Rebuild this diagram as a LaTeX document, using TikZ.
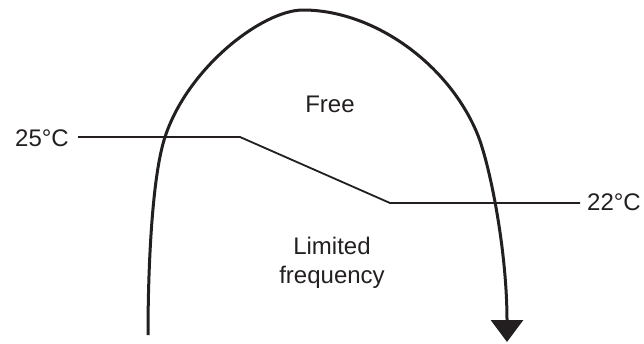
\documentclass[tikz,border=0pt]{standalone}
\usepackage{fontspec}
\setmainfont{Liberation Sans}
\usetikzlibrary{arrows.meta}
\definecolor{ink}{HTML}{231F20}
\begin{document}
\begin{tikzpicture}[x=1pt,y=-1pt,
  lbl/.style={inner sep=0pt,text=ink,font=\fontsize{24}{29}\selectfont},
  curve/.style={line width=3pt,draw=ink,-{Triangle[width=32pt,length=22pt]}},
  templine/.style={line width=1.8pt,draw=ink}]
\useasboundingbox (0,0) rectangle (644,343);
% labels
\node[lbl,anchor=base] (free) at (330,112.7) {Free};
\node[lbl,anchor=base,align=center] (limited) at (332,283) {Limited\\frequency};
\node[lbl,anchor=base east] (t25) at (69,146.5) {25°C};
\node[lbl,anchor=base west] (t22) at (587,210.5) {22°C};
% temperature line
\coordinate (a) at (78,137);
\coordinate (b) at (240,137);
\coordinate (c) at (390,203);
\coordinate (d) at (580,203);
\draw[templine] (a) -- (b) -- (c) -- (d);
% arch
\coordinate (s) at (148,335);
\coordinate (l) at (165,137);
\coordinate (top) at (303,10);
\coordinate (r) at (477,133);
\coordinate (e) at (507,342);
\draw[curve] (s) .. controls (148,270) and (151.8,177) .. (l)
  .. controls (188,67) and (263,10) .. (top)
  .. controls (373,10) and (447.6,63) .. (r)
  .. controls (489.6,163) and (507,250) .. (e);
\end{tikzpicture}
\end{document}
